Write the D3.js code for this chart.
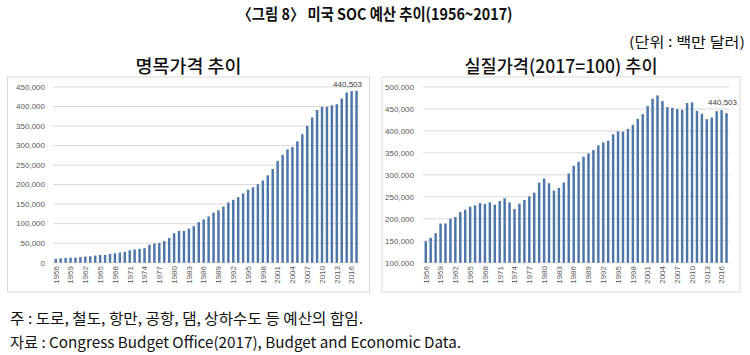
<!DOCTYPE html>
<html><head><meta charset="utf-8">
<script src="https://cdn.jsdelivr.net/npm/d3@7"></script>
<style>
html,body{margin:0;padding:0;background:#fff;}
svg{display:block;}
</style></head>
<body>
<svg id="c" width="750" height="355"></svg>
<script>
const years = d3.range(1956, 2018);
const tickYears = [1956,1959,1962,1965,1968,1971,1974,1977,1980,1983,1986,1989,1992,1995,1998,2001,2004,2007,2010,2013,2016];
const nominal = [9500,11300,12100,13000,13000,14700,15600,16500,18200,19900,19900,22500,24200,26000,27700,32000,33800,35500,37200,45900,49000,50500,
  55400,63200,75300,81400,81400,87400,93500,103900,110800,118600,128100,134200,143700,154100,161000,168000,177500,187000,193000,200900,
  210500,223700,240000,260800,276300,290200,296200,310900,329000,350600,372200,391200,399000,399000,403300,405900,420600,436000,439500,440503];
const real = [148900,156500,167200,189300,189300,200000,203800,215300,220600,227500,230500,235900,233600,237400,232000,240500,246600,237400,222100,234400,242700,251100,
  259500,282400,291600,280900,264100,270200,282400,303000,320600,329800,341200,348900,356500,367200,374000,377900,392400,399200,398500,404600,
  413700,427500,438200,456500,473300,480900,467900,454200,452700,449600,448100,463400,464900,445800,438900,426700,430500,445000,447300,440503];
const nominalTicks = [0,50000,100000,150000,200000,250000,300000,350000,400000,450000];
const realTicks = [100000,150000,200000,250000,300000,350000,400000,450000,500000];
const labelText = "440,503";

const svg = d3.select("#c");
const KR = "'Noto Sans CJK KR','Noto Sans',sans-serif";
const NUM = "'Liberation Sans',Arial,sans-serif";
const fmt = d3.format(",");

function fitText(sel, w){ sel.attr("textLength", w).attr("lengthAdjust","spacingAndGlyphs"); }

// titles
svg.append("text").attr("x",375).attr("y",20).attr("text-anchor","middle")
  .attr("font-family",KR).attr("font-size",16).attr("font-weight",700).attr("fill","#111")
  .text("〈그림 8〉 미국 SOC 예산 추이(1956~2017)").call(fitText,275);
svg.append("text").attr("x",745).attr("y",47).attr("text-anchor","end")
  .attr("font-family",KR).attr("font-size",14).attr("fill","#111")
  .text("(단위 : 백만 달러)").call(fitText,116);
svg.append("text").attr("x",10).attr("y",324)
  .attr("font-family",KR).attr("font-size",15).attr("fill","#111")
  .text("주 : 도로, 철도, 항만, 공항, 댐, 상하수도 등 예산의 합임.").call(fitText,353);
svg.append("text").attr("x",10).attr("y",348)
  .attr("font-family",KR).attr("font-size",15).attr("fill","#111")
  .text("자료 : Congress Budget Office(2017), Budget and Economic Data.").call(fitText,451);

function panel(o){
  const g = svg.append("g");
  g.append("rect").attr("x",o.fx0).attr("y",77).attr("width",o.fx1-o.fx0).attr("height",215)
    .attr("fill","#fff").attr("stroke","#d9d9d9").attr("stroke-width",1);
  g.append("text").attr("x",(o.fx0+o.fx1)/2).attr("y",73).attr("text-anchor","middle")
    .attr("font-family",KR).attr("font-size",18).attr("font-weight",500).attr("fill","#111")
    .text(o.title).call(fitText,o.titleW);
  const x = d3.scaleBand().domain(years).range([o.px0,o.px1]).paddingInner(0.5).paddingOuter(0.25);
  const y = d3.scaleLinear().domain(o.domain).range([262.7,87]);
  g.append("g").selectAll("line").data(o.ticks).join("line")
    .attr("x1",o.px0).attr("x2",o.px1).attr("y1",d=>y(d)).attr("y2",d=>y(d))
    .attr("stroke","#d9d9d9").attr("stroke-width",1);
  g.append("g").selectAll("text").data(o.ticks).join("text")
    .attr("x",o.lx).attr("y",d=>y(d)).attr("dy","0.35em").attr("text-anchor","end")
    .attr("font-family",NUM).attr("font-size",8).attr("fill","#595959")
    .text(d=>fmt(d));
  g.append("g").selectAll("rect").data(o.values).join("rect")
    .attr("x",(d,i)=>x(years[i])).attr("width",x.bandwidth())
    .attr("y",d=>y(d)).attr("height",d=>y(o.domain[0])-y(d))
    .attr("fill","#4f76a8");
  g.append("g").selectAll("text").data(tickYears).join("text")
    .attr("transform",d=>`translate(${x(d)+x.bandwidth()/2},266) rotate(-90)`)
    .attr("dy","0.35em").attr("text-anchor","end")
    .attr("font-family",NUM).attr("font-size",8).attr("fill","#595959")
    .text(d=>d);
  const last = years[years.length-1];
  g.append("text").attr("x",x(last)+x.bandwidth()/2+o.lOff).attr("y",y(o.values[o.values.length-1])-o.lDy)
    .attr("text-anchor","middle").attr("font-family",NUM).attr("font-size",8).attr("fill","#404040")
    .text(labelText);
}

panel({fx0:7.5,fx1:369.5,px0:53.3,px1:359,lx:45,domain:[0,450000],ticks:nominalTicks,values:nominal,
  title:"명목가격 추이",titleW:106,lOff:-9,lDy:4});
panel({fx0:382,fx1:740,px0:423.3,px1:729,lx:414,domain:[100000,500000],ticks:realTicks,values:real,
  title:"실질가격(2017=100) 추이",titleW:193,lOff:-4,lDy:8});
</script>
</body></html>
